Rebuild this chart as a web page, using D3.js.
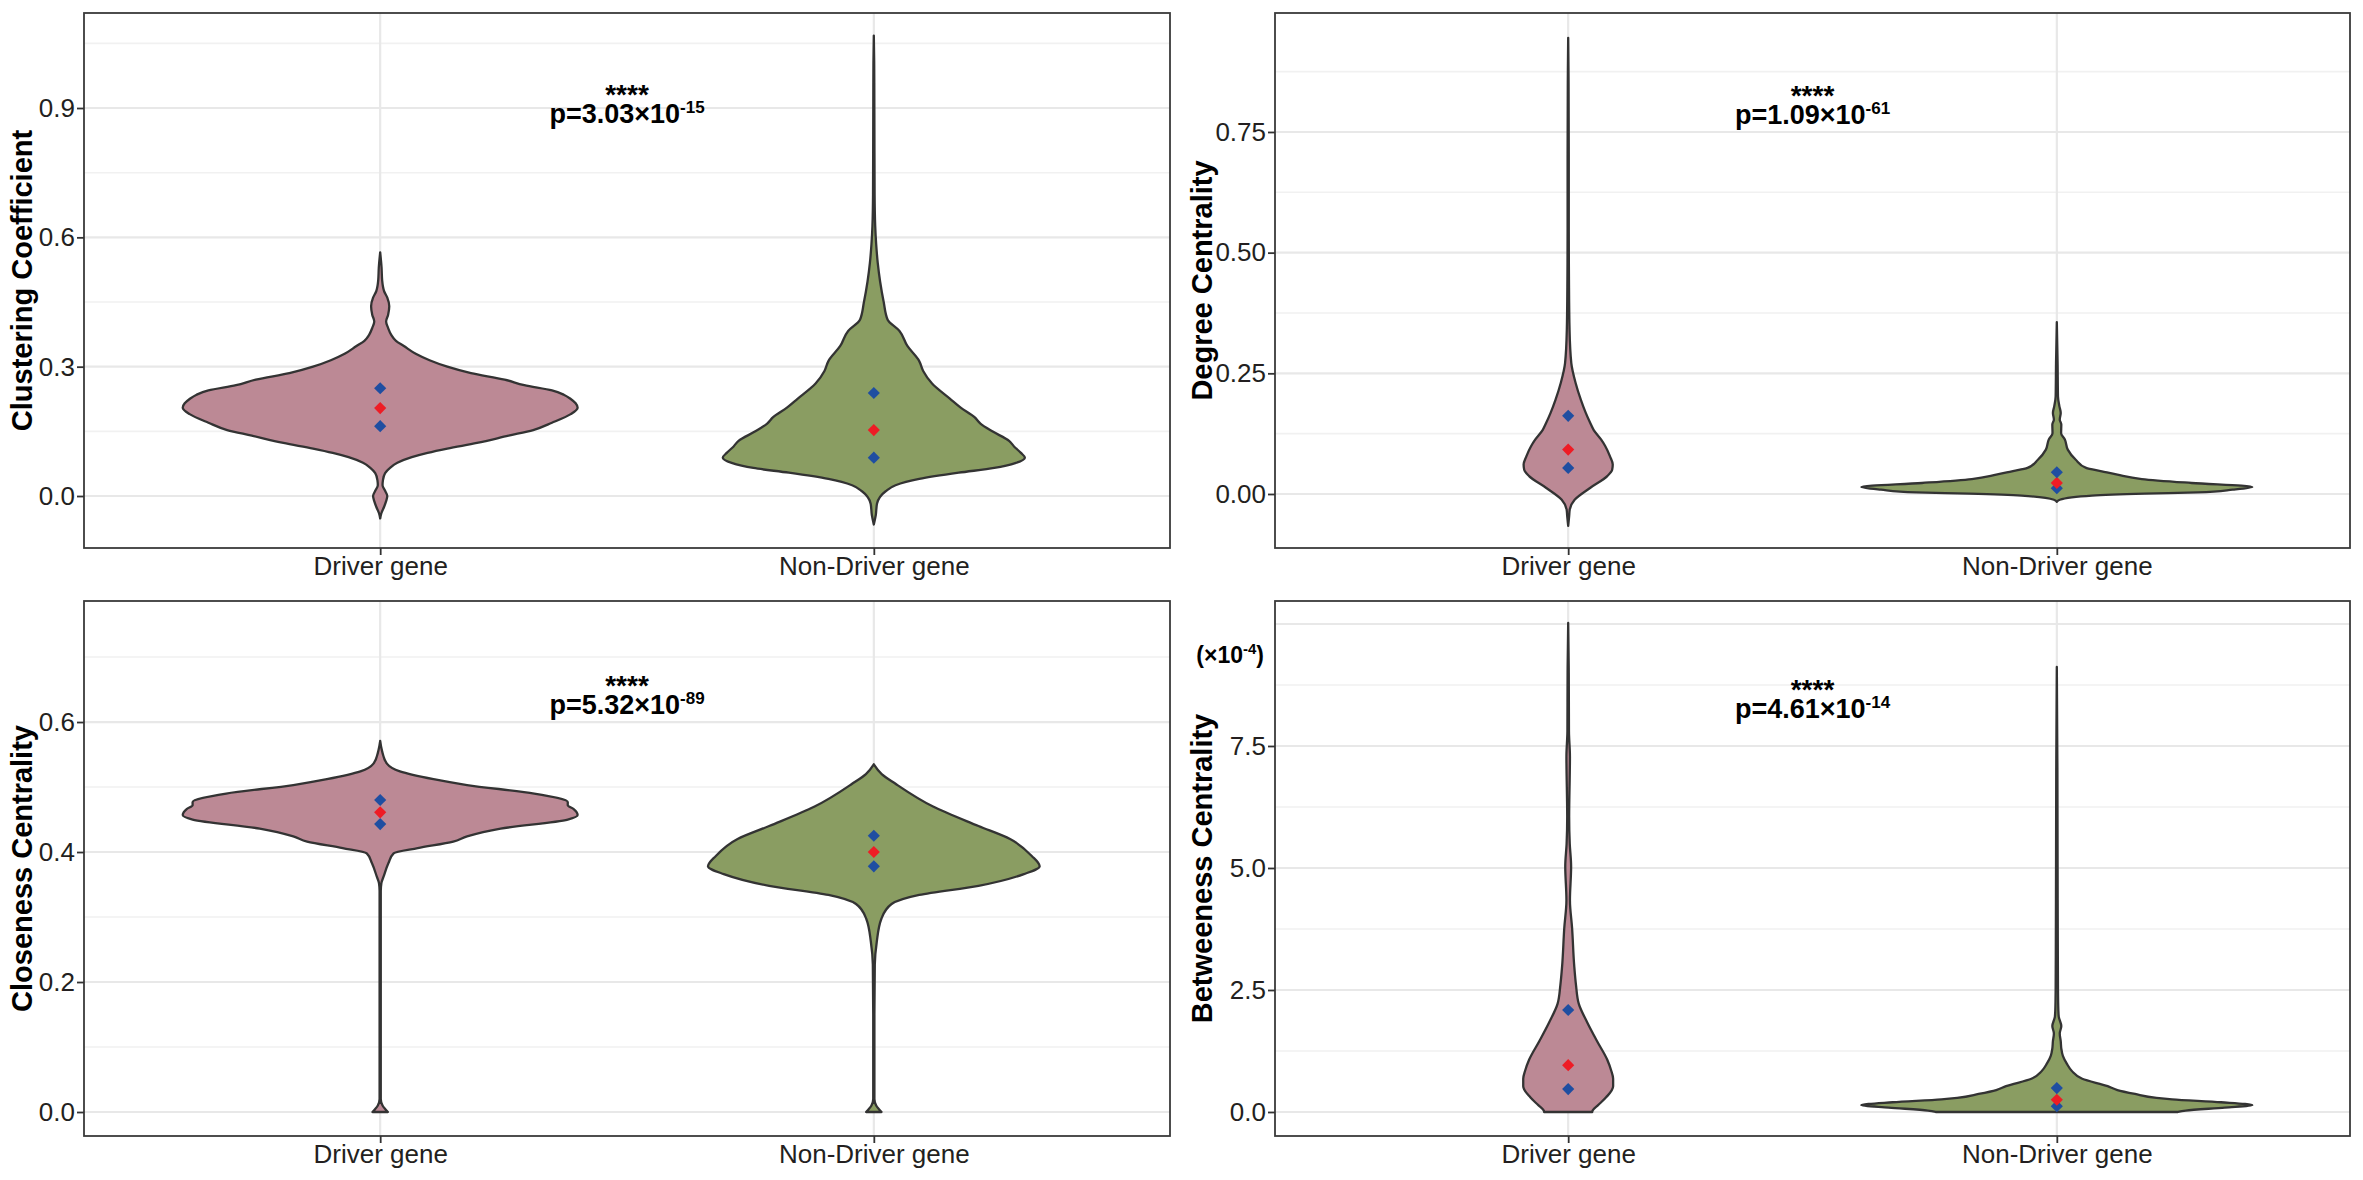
<!DOCTYPE html>
<html>
<head>
<meta charset="utf-8">
<script src="https://cdn.jsdelivr.net/npm/d3@7"></script>
<style>
body { margin: 0; background: #fff; }
text { font-family: "Liberation Sans", Arial, sans-serif; }
</style>
</head>
<body>
<div id="chart"></div>
<script>
// Groups on the x axis
const groups = ["Driver gene", "Non-Driver gene"];
const metrics = ["Clustering Coefficient", "Degree Centrality", "Closeness Centrality", "Betweeness Centrality"];

// Violin outlines: [value, relative density]
const ccDriver = [[-0.052, 0], [-0.04, 0.006], [-0.025, 0.02], [-0.012, 0.03], [0.0, 0.036], [0.012, 0.025], [0.025, 0.012],
    [0.037, 0.014], [0.053, 0.025], [0.065, 0.05], [0.077, 0.087], [0.09, 0.16], [0.1, 0.24], [0.11, 0.34], [0.123, 0.49],
    [0.14, 0.65], [0.153, 0.775], [0.17, 0.87], [0.19, 0.965], [0.205, 1.0], [0.215, 0.99], [0.225, 0.965], [0.235, 0.93],
    [0.245, 0.87], [0.257, 0.73], [0.27, 0.63], [0.285, 0.46], [0.3, 0.34], [0.315, 0.25], [0.33, 0.18], [0.348, 0.12],
    [0.36, 0.08], [0.374, 0.056], [0.39, 0.04], [0.405, 0.03], [0.42, 0.04], [0.44, 0.046], [0.46, 0.036], [0.475, 0.02],
    [0.5, 0.01], [0.53, 0.007], [0.565, 0]];
const ccNonDriver = [[-0.066, 0], [-0.044, 0.01], [-0.018, 0.016], [0.011, 0.06], [0.025, 0.11], [0.0395, 0.23], [0.054, 0.43],
    [0.065, 0.61], [0.077, 0.72], [0.089, 0.765], [0.1, 0.745], [0.115, 0.71], [0.128, 0.685], [0.15, 0.6], [0.168, 0.54],
    [0.183, 0.51], [0.205, 0.44], [0.226, 0.385], [0.261, 0.295], [0.29, 0.25], [0.313, 0.23], [0.348, 0.17], [0.383, 0.13],
    [0.409, 0.07], [0.45, 0.05], [0.497, 0.032], [0.54, 0.02], [0.584, 0.012], [0.627, 0.007], [0.7, 0.004], [0.85, 0.003],
    [1.0, 0.002], [1.068, 0]];
const dcDriver = [[-0.066, 0], [-0.046, 0.005], [-0.032, 0.008], [-0.012, 0.033], [0.012, 0.11], [0.037, 0.2], [0.05, 0.225],
    [0.061, 0.228], [0.078, 0.214], [0.099, 0.19], [0.113, 0.168], [0.133, 0.13], [0.147, 0.113], [0.168, 0.09], [0.195, 0.065],
    [0.23, 0.038], [0.271, 0.016], [0.34, 0.007], [0.444, 0.004], [0.55, 0.003], [0.7, 0.003], [0.85, 0.002], [0.945, 0]];
const dcNonDriver = [[-0.016, 0], [-0.012, 0.015], [-0.0035, 0.18], [0.0007, 0.45], [0.0035, 0.72], [0.009, 0.9], [0.0145, 1.0],
    [0.0228, 0.69], [0.031, 0.435], [0.04, 0.31], [0.047, 0.23], [0.054, 0.15], [0.071, 0.097], [0.092, 0.056], [0.113, 0.041],
    [0.126, 0.022], [0.144, 0.023], [0.154, 0.015], [0.168, 0.02], [0.182, 0.013], [0.202, 0.006], [0.271, 0.004], [0.356, 0]];
const clDriver = [[0.0, 0.039], [0.01, 0.012], [0.02, 0.003], [0.2, 0.003], [0.34, 0.003], [0.352, 0.006], [0.362, 0.017],
    [0.383, 0.042], [0.398, 0.068], [0.406, 0.19], [0.416, 0.37], [0.424, 0.44], [0.436, 0.61], [0.45, 0.95], [0.457, 1.0],
    [0.466, 0.98], [0.472, 0.95], [0.477, 0.95], [0.49, 0.78], [0.503, 0.44], [0.512, 0.27], [0.524, 0.1], [0.536, 0.034],
    [0.556, 0.009], [0.571, 0]];
const clNonDriver = [[0.0, 0.039], [0.01, 0.012], [0.02, 0.003], [0.15, 0.003], [0.227, 0.005], [0.262, 0.015], [0.297, 0.038],
    [0.32, 0.09], [0.334, 0.23], [0.348, 0.53], [0.366, 0.76], [0.378, 0.84], [0.394, 0.8], [0.42, 0.69], [0.44, 0.53],
    [0.47, 0.3], [0.505, 0.11], [0.52, 0.04], [0.535, 0]];
const btDriver = [[0.0, 0.123], [0.03, 0.125], [0.14, 0.153], [0.3, 0.194], [0.53, 0.23], [0.68, 0.23], [0.85, 0.22], [1.07, 0.2],
    [1.45, 0.148], [1.84, 0.097], [2.22, 0.054], [2.6, 0.04], [2.99, 0.031], [3.77, 0.02], [4.34, 0.009], [5.03, 0.015],
    [5.5, 0.008], [6.05, 0.005], [7.28, 0.009], [7.8, 0.004], [9.0, 0.003], [10.02, 0]];
const btNonDriver = [[0.0, 0.62], [0.03, 0.66], [0.09, 0.86], [0.14, 1.0], [0.2, 0.84], [0.26, 0.59], [0.29, 0.51], [0.37, 0.4],
    [0.45, 0.31], [0.53, 0.26], [0.68, 0.13], [0.84, 0.077], [0.99, 0.051], [1.15, 0.031], [1.3, 0.023], [1.45, 0.02],
    [1.61, 0.015], [1.76, 0.023], [1.95, 0.01], [2.07, 0.008], [2.5, 0.006], [3.5, 0.005], [5, 0.004], [7, 0.003], [9.12, 0]];

// Summary points: [lower quartile, median, upper quartile]
const ccStats = [[0.162, 0.204, 0.25], [0.089, 0.153, 0.239]];
const dcStats = [[0.054, 0.092, 0.162], [0.012, 0.023, 0.045]];
const clStats = [[0.443, 0.461, 0.48], [0.378, 0.40, 0.425]];
const btStats = [[0.47, 0.96, 2.09], [0.12, 0.25, 0.49]];

// Axis ticks and limits
const ccTicks = [0, 0.3, 0.6, 0.9], ccMinor = [0.15, 0.45, 0.75, 1.05];
const dcTicks = [0, 0.25, 0.5, 0.75], dcMinor = [0.125, 0.375, 0.625, 0.875];
const clTicks = [0, 0.2, 0.4, 0.6], clMinor = [0.1, 0.3, 0.5, 0.7];
const btTicks = [0, 2.5, 5, 7.5], btGrid = [0, 2.5, 5, 7.5, 10], btMinor = [1.25, 3.75, 6.25, 8.75];
const yLimits = [[-0.1206, 1.1204], [-0.1119, 0.9965], [-0.0369, 0.7862], [-0.492, 10.471]];
const tickFormats = [".1f", ".2f", ".1f", ".1f"];

// Wilcoxon test labels
const pMantissa = ["3.03", "1.09", "5.32", "4.61"];
const pExponent = ["-15", "-61", "-89", "-14"];
const pLabelY = [0.865, 0.767, 0.612, 8.07];

const violinData = [[ccDriver, ccNonDriver], [dcDriver, dcNonDriver], [clDriver, clNonDriver], [btDriver, btNonDriver]];
const statData = [ccStats, dcStats, clStats, btStats];
const majorTicks = [ccTicks, dcTicks, clTicks, btTicks];
const majorGrid = [ccTicks, dcTicks, clTicks, btGrid];
const minorGrid = [ccMinor, dcMinor, clMinor, btMinor];

const width = 2363;
const height = 1180;
const fills = ["#bc8995", "#8a9d62"];

const boxes = [
    { left: 84, right: 1170, top: 13, bottom: 548, titleX: 32 },
    { left: 1275, right: 2350, top: 13, bottom: 548, titleX: 1212 },
    { left: 84, right: 1170, top: 601, bottom: 1136, titleX: 32 },
    { left: 1275, right: 2350, top: 601, bottom: 1136, titleX: 1212 }
];

const svg = d3.select("#chart")
    .append("svg")
    .attr("width", width)
    .attr("height", height);

svg.append("rect").attr("width", width).attr("height", height).attr("fill", "#fff");

boxes.forEach((b, i) => {
    const g = svg.append("g");

    const x = d3.scalePoint()
        .domain(groups)
        .range([b.left, b.right])
        .padding(0.6);

    const y = d3.scaleLinear()
        .domain(yLimits[i])
        .range([b.bottom, b.top]);

    const w = d3.scaleLinear()
        .domain([0, 1])
        .range([0, 0.4 * x.step()]);

    // grid lines
    g.selectAll(".minor")
        .data(minorGrid[i])
        .enter().append("line")
        .attr("x1", b.left).attr("x2", b.right)
        .attr("y1", d => y(d)).attr("y2", d => y(d))
        .attr("stroke", "#f1f1f1")
        .attr("stroke-width", 1.6);

    g.selectAll(".major")
        .data(majorGrid[i])
        .enter().append("line")
        .attr("x1", b.left).attr("x2", b.right)
        .attr("y1", d => y(d)).attr("y2", d => y(d))
        .attr("stroke", "#e8e8e8")
        .attr("stroke-width", 2.2);

    g.selectAll(".vgrid")
        .data(groups)
        .enter().append("line")
        .attr("x1", d => x(d)).attr("x2", d => x(d))
        .attr("y1", b.top).attr("y2", b.bottom)
        .attr("stroke", "#e8e8e8")
        .attr("stroke-width", 2.2);

    // violins
    groups.forEach((grp, j) => {
        const cx = x(grp);
        const area = d3.area()
            .curve(d3.curveMonotoneY)
            .y(d => y(d[0]))
            .x0(d => cx - w(d[1]))
            .x1(d => cx + w(d[1]));

        g.append("path")
            .datum(violinData[i][j])
            .attr("d", area)
            .attr("fill", fills[j])
            .attr("stroke", "#333")
            .attr("stroke-width", 2.3)
            .attr("stroke-linejoin", "round");

        const diamond = d3.symbol().type(d3.symbolSquare).size(74);
        g.selectAll(".pt" + j)
            .data(statData[i][j])
            .enter().append("path")
            .attr("d", diamond)
            .attr("transform", d => `translate(${cx},${y(d)}) rotate(45)`)
            .attr("fill", (d, k) => k === 1 ? "#ee1c25" : "#1f4ea1");
    });

    // panel border
    g.append("rect")
        .attr("x", b.left).attr("y", b.top)
        .attr("width", b.right - b.left).attr("height", b.bottom - b.top)
        .attr("fill", "none")
        .attr("stroke", "#3a3a3a")
        .attr("stroke-width", 1.8);

    // axes
    const yAxis = d3.axisLeft(y)
        .tickValues(majorTicks[i])
        .tickFormat(d3.format(tickFormats[i]))
        .tickSize(7)
        .tickPadding(2);

    const xAxis = d3.axisBottom(x)
        .tickSize(7)
        .tickPadding(2);

    const ya = g.append("g")
        .attr("transform", `translate(${b.left},0)`)
        .call(yAxis);
    const xa = g.append("g")
        .attr("transform", `translate(0,${b.bottom})`)
        .call(xAxis);

    [ya, xa].forEach(a => {
        a.select(".domain").remove();
        a.selectAll(".tick line").attr("stroke", "#333").attr("stroke-width", 1.8);
        a.selectAll(".tick text")
            .attr("fill", "#231f20")
            .style("font-size", "26px")
            .style("font-family", "'Liberation Sans', Arial, sans-serif");
    });

    // y title
    g.append("text")
        .attr("transform", `translate(${b.titleX},${(b.top + b.bottom) / 2}) rotate(-90)`)
        .attr("text-anchor", "middle")
        .style("font-size", "29px")
        .style("font-weight", "bold")
        .attr("fill", "#000")
        .text(metrics[i]);

    // significance label: stars above the p value, as two lines of one text
    const mx = (x(groups[0]) + x(groups[1])) / 2;
    const py = y(pLabelY[i]);
    const pt = g.append("text")
        .attr("x", mx).attr("y", py - 19)
        .attr("text-anchor", "middle")
        .style("font-weight", "bold");
    pt.append("tspan").style("font-size", "28px").text("****");
    pt.append("tspan").attr("x", mx).attr("dy", 19).style("font-size", "27px").text(`p=${pMantissa[i]}×10`);
    pt.append("tspan").attr("dy", -10).style("font-size", "17px").text(pExponent[i]);
});

// scale note for betweeness panel
const note = svg.append("text")
    .attr("x", 1264).attr("y", 663)
    .attr("text-anchor", "end")
    .style("font-size", "23px")
    .style("font-weight", "bold");
note.append("tspan").text("(×10");
note.append("tspan").attr("dy", -9).style("font-size", "15px").text("-4");
note.append("tspan").attr("dy", 9).text(")");
</script>
</body>
</html>
